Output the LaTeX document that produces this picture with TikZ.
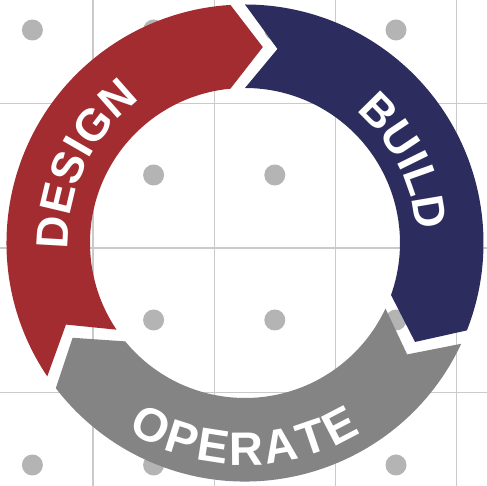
\documentclass[tikz,border=0pt]{standalone}
\usepackage{fontspec}
\setmainfont{Liberation Sans}
\usetikzlibrary{decorations.text}
\definecolor{dred}{HTML}{A22C2F}
\definecolor{dnavy}{HTML}{2C2D5E}
\definecolor{dgray}{HTML}{848484}
\definecolor{gridc}{HTML}{CACACA}
\definecolor{dotc}{HTML}{B4B4B4}
\def\ringRo{238.5pt}
\def\ringRi{155pt}
\def\ringRm{196.75pt}
\def\ringDd{9.5}
\newcommand\ringseg[3]{%
  \fill[#1] (#2:\ringRo) arc[start angle=#2, end angle={#3+3.5}, radius=\ringRo]
    -- ({#3-\ringDd+4.3}:\ringRm) -- ({#3+5.4}:\ringRi)
    arc[start angle={#3+5.4}, end angle=#2, radius=\ringRi]
    -- ({#2-\ringDd}:\ringRm) -- cycle;}
\begin{document}
\begin{tikzpicture}[x=1pt,y=1pt,
  gridline/.style={draw=gridc,line width=1.2pt},
  dotmark/.style={fill=dotc},
  arcword/.style 2 args={decorate,decoration={text along path,
      text={|\bfseries\fontsize{#1}{#1}\selectfont|#2},
      text color=white, text align=fit to path}}]
\useasboundingbox (0,0) rectangle (487,486);
\fill[white] (0,0) rectangle (487,486);
% grid
\foreach \x in {93,214.2,335.4,456.6} \draw[gridline] (\x,0) -- (\x,486);
\foreach \y in {103.3,248,392.7} \draw[gridline] (0,486-\y) -- (487,486-\y);
% dots
\foreach \x in {32.4,153.6,274.8,396}
  \foreach \y in {30,175,320,465}
    \fill[dotmark] (\x,486-\y) circle (10.5);
\begin{scope}[shift={(245,243)}]
  \ringseg{dred}{214}{90}
  \ringseg{dnavy}{90}{-25}
  \ringseg{dgray}{335}{214}
  \path[arcword={45}{DESIGN}]
    (182:177pt) arc[start angle=182, end angle=130.5, radius=177pt];
  \path[arcword={45}{BUILD}]
    (50:172pt) arc[start angle=50, end angle=7, radius=172pt];
  \path[arcword={47}{OPERATE}]
    (-122:222pt) arc[start angle=-122, end angle=-58.5, radius=222pt];
\end{scope}
\end{tikzpicture}
\end{document}
